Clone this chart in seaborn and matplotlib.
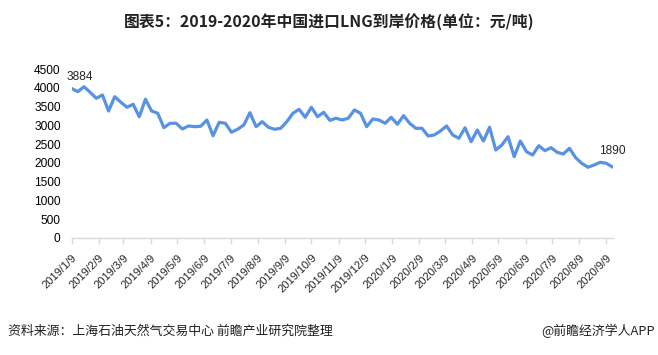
import numpy as np
import pandas as pd
import matplotlib
matplotlib.use("Agg")
import matplotlib.pyplot as plt
import matplotlib.dates as mdates
import seaborn as sns

# ---- data ----
start_date = "2019-01-09"
n_weeks = 89
prices = [3980, 3896, 4029, 3880, 3720, 3808, 3382, 3763, 3614, 3481,
          3560, 3230, 3694, 3382, 3321, 2937, 3054, 3054, 2903, 2983,
          2964, 2975, 3142, 2724, 3081, 3054, 2815, 2895, 3009, 3337,
          2964, 3097, 2948, 2895, 2921, 3097, 3321, 3427, 3214, 3481,
          3230, 3347, 3134, 3188, 3142, 3188, 3409, 3321, 2964, 3169,
          3142, 3054, 3214, 3028, 3257, 3054, 2921, 2921, 2716, 2743,
          2849, 2983, 2743, 2655, 2935, 2565, 2876, 2583, 2948, 2343,
          2477, 2698, 2165, 2583, 2298, 2210, 2458, 2325, 2405, 2282,
          2237, 2389, 2138, 1989, 1883, 1944, 2016, 1989, 1890]
label_first = "3884"
label_last = "1890"
tick_dates = pd.date_range("2019-01-01", "2020-09-01", freq="MS") + pd.Timedelta(days=8)
y_ticks = [0, 500, 1000, 1500, 2000, 2500, 3000, 3500, 4000, 4500]
title = "图表5：2019-2020年中国进口LNG到岸价格(单位：元/吨)"
source = "资料来源：上海石油天然气交易中心 前瞻产业研究院整理"
credit = "@前瞻经济学人APP"

dates = pd.date_range(start_date, periods=n_weeks, freq="7D")
df = pd.DataFrame({"date": dates, "price": prices})

sns.set_theme(style="white")
plt.rcParams["font.family"] = ["Liberation Sans", "Noto Sans CJK SC", "DejaVu Sans"]

fig = plt.figure(figsize=(6.58, 3.55), dpi=100)
ax = fig.add_axes([71.7 / 658, 1 - 238 / 355, (612.5 - 71.7) / 658, (238 - 69) / 355])

sns.lineplot(data=df, x="date", y="price", ax=ax, color="#5892E3", linewidth=2.3)

ax.set_xlim(dates[0], dates[-1])
ax.set_ylim(0, 4500)
ax.set_yticks(y_ticks)
ax.set_yticklabels([str(v) for v in y_ticks], fontsize=8.6, color="#000000")
ax.set_xticks(tick_dates)
ax.set_xticklabels([f"{d.year}/{d.month}/{d.day}" for d in tick_dates],
                   rotation=45, ha="right", rotation_mode="anchor", fontsize=8)
ax.set_xlabel("")
ax.set_ylabel("")
for s in ["top", "right", "left"]:
    ax.spines[s].set_visible(False)
ax.spines["bottom"].set_color("#D9D9D9")
ax.spines["bottom"].set_linewidth(1)
ax.tick_params(axis="x", which="major", length=4.5, width=1, color="#D9D9D9",
               bottom=True, pad=6)
ax.tick_params(axis="y", length=0, pad=8)
ax.grid(False)

ax.annotate(label_first, (dates[0], prices[0]), xytext=(-4, 4), textcoords="offset points",
            fontsize=8.6, ha="left", va="bottom")
ax.annotate(label_last, (dates[-1], prices[-1]), xytext=(0, 7), textcoords="offset points",
            fontsize=8.6, ha="center", va="bottom")

fig.text(329 / 658, 1 - 22 / 355, title, ha="center", va="center", fontsize=11.4,
         fontweight="bold", family=["Noto Sans CJK SC", "DejaVu Sans"], color="#222222")
fig.text(8 / 658, 1 - 331 / 355, source, ha="left", va="center", fontsize=9.3,
         family=["Noto Sans CJK SC", "DejaVu Sans"], color="#222222")
fig.text(655 / 658, 1 - 331 / 355, credit, ha="right", va="center", fontsize=9.3,
         family=["Noto Sans CJK SC", "DejaVu Sans"], color="#222222")

fig.savefig("out.png", dpi=100)
